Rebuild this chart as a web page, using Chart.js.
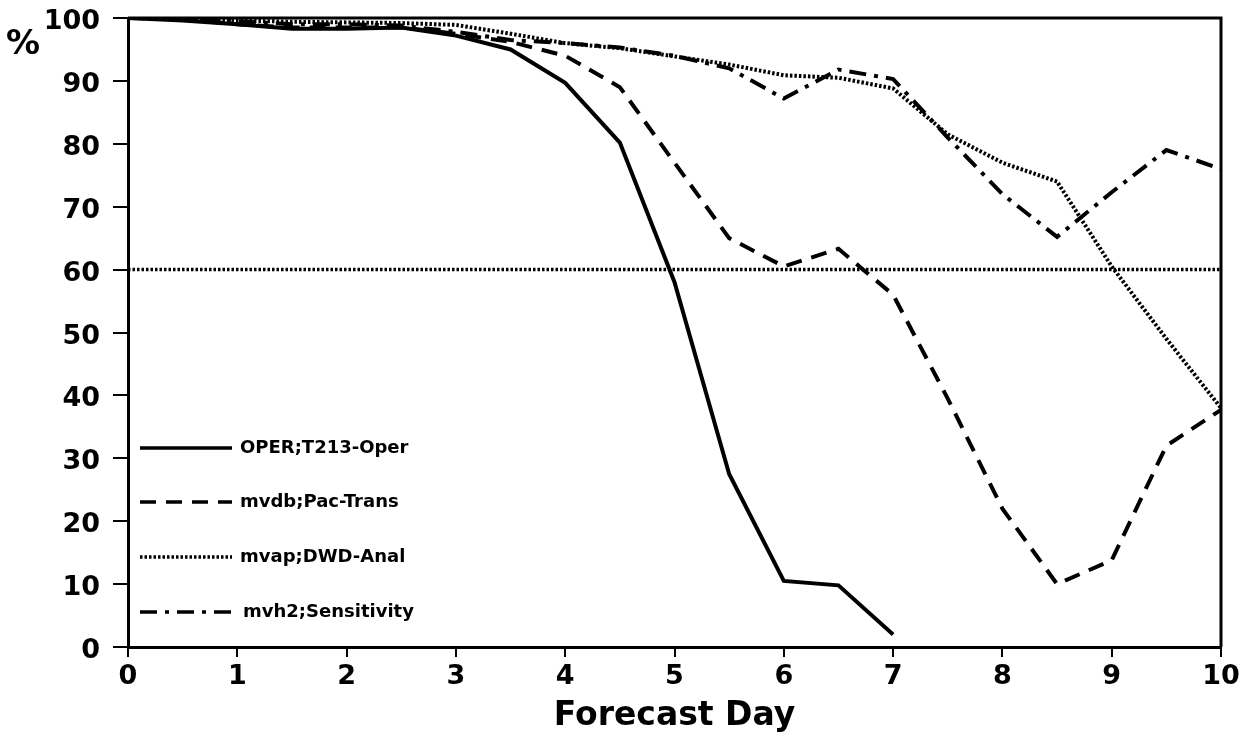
<!DOCTYPE html>
<html><head><meta charset="utf-8">
<script src="https://cdn.jsdelivr.net/npm/chart.js@4.4.0/dist/chart.umd.min.js"></script>
<style>html,body{margin:0;padding:0;background:#fff;}#wrap{width:1253px;height:740px;}</style>
</head><body><div id="wrap"><canvas id="c" width="1253" height="740"></canvas></div>
<script>
const days = [0,0.5,1,1.5,2,2.5,3,3.5,4,4.5,5,5.5,6,6.5,7,7.5,8,8.5,9,9.5,10];
const operValues = [100,99.6,99,98.3,98.3,98.5,97.2,95,89.7,80.2,58,27.5,10.5,9.8,2];
const mvdbValues = [100,99.8,99,98.5,98.5,98.5,97.5,96.2,94,89,77,65,60.5,63.3,56,39.5,22,10,13.8,32,37.7];
const mvapValues = [100,99.9,99.6,99.4,99.3,99.2,98.9,97.5,96,95.2,93.9,92.6,90.9,90.5,88.8,81.5,77,74,60.5,49,38];
const mvh2Values = [100,100,99.5,99,99,98.8,97.8,96.5,96,95.3,94,92,87.2,91.8,90.3,81,72,65.2,72.3,79,76];
const thresholdDays = [0,10];
const thresholdValues = [60,60];
const seriesLabels = ['OPER;T213-Oper','mvdb;Pac-Trans','mvap;DWD-Anal','mvh2;Sensitivity'];
const xTicks = [0,1,2,3,4,5,6,7,8,9,10];
const yTicks = [0,10,20,30,40,50,60,70,80,90,100];
const xTitle = 'Forecast Day';
const yUnit = '%';

const FONT = "'DejaVu Sans', 'Liberation Sans', sans-serif";
const toPts = (xs, ys) => ys.map((v, i) => ({x: xs[i], y: v}));

const styles = [
  {dash: []},
  {dash: [16, 10]},
  {dash: [2.5, 2]},
  {dash: [17, 8, 4, 8]}
];
const seriesValues = [operValues, mvdbValues, mvapValues, mvh2Values];

const datasets = seriesValues.map((vals, i) => ({
  label: seriesLabels[i],
  data: toPts(days, vals),
  borderColor: '#000',
  borderWidth: 4,
  borderDash: styles[i].dash,
  borderCapStyle: 'butt',
  borderJoinStyle: 'miter',
  pointRadius: 0,
  tension: 0,
  fill: false
}));
datasets.push({
  label: 'threshold',
  data: toPts(thresholdDays, thresholdValues),
  borderColor: '#000',
  borderWidth: 3.5,
  borderDash: [2.5, 2],
  borderCapStyle: 'butt',
  pointRadius: 0,
  tension: 0,
  fill: false
});

const framePlugin = {
  id: 'frame',
  afterDraw(chart) {
    const {ctx, chartArea: a} = chart;
    ctx.save();
    ctx.strokeStyle = '#000';
    ctx.lineWidth = 3;
    ctx.beginPath();
    ctx.moveTo(a.left, a.top);
    ctx.lineTo(a.right, a.top);
    ctx.lineTo(a.right, a.bottom);
    ctx.stroke();
    ctx.fillStyle = '#000';
    ctx.font = 'bold 34px ' + FONT;
    ctx.textAlign = 'left';
    ctx.textBaseline = 'alphabetic';
    ctx.fillText(yUnit, 6, 54);
    const rows = [448, 502, 557, 612];
    seriesLabels.forEach((lab, i) => {
      const y = rows[i];
      ctx.setLineDash(styles[i].dash);
      ctx.lineWidth = 3.5;
      ctx.lineCap = 'butt';
      ctx.beginPath();
      ctx.moveTo(140, y);
      ctx.lineTo(232, y);
      ctx.stroke();
      ctx.setLineDash([]);
      ctx.font = 'bold 18px ' + FONT;
      ctx.textBaseline = 'middle';
      ctx.fillText(lab, i === 3 ? 243 : 240, y);
    });
    ctx.restore();
  }
};

new Chart(document.getElementById('c'), {
  type: 'line',
  data: {datasets},
  options: {
    responsive: false,
    animation: false,
    layout: {padding: {left: 0, right: 32, top: 18, bottom: 0}},
    plugins: {legend: {display: false}, tooltip: {enabled: false}},
    scales: {
      x: {
        type: 'linear', min: 0, max: 10,
        afterBuildTicks: s => { s.ticks = xTicks.map(v => ({value: v})); },
        afterFit: s => { s.height = 93; s.paddingLeft = 0; s.paddingRight = 0; },
        ticks: {color: '#000', font: {family: FONT, size: 27, weight: 'bold'}, padding: 4, maxRotation: 0},
        grid: {drawOnChartArea: false, color: '#000', lineWidth: 2, tickLength: 10},
        border: {color: '#000', width: 3},
        title: {display: true, text: xTitle, color: '#000', font: {family: FONT, size: 33, weight: 'bold'}, padding: {top: 0, bottom: 4}}
      },
      y: {
        type: 'linear', min: 0, max: 100,
        afterBuildTicks: s => { s.ticks = yTicks.map(v => ({value: v})); },
        afterFit: s => { s.width = 128; s.paddingTop = 0; s.paddingBottom = 0; },
        ticks: {color: '#000', font: {family: FONT, size: 27, weight: 'bold'}, padding: 13, labelOffset: 4},
        grid: {drawOnChartArea: false, color: '#000', lineWidth: 2, tickLength: 15},
        border: {color: '#000', width: 3}
      }
    }
  },
  plugins: [framePlugin]
});
</script>
</body></html>
